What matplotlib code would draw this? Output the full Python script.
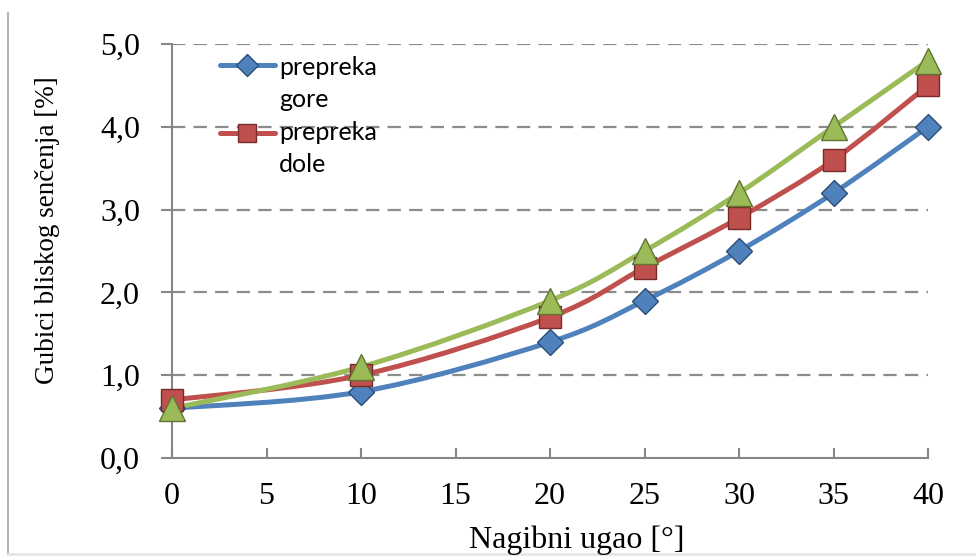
import matplotlib
matplotlib.use("Agg")
import matplotlib.pyplot as plt
from matplotlib.path import Path
from matplotlib.patches import PathPatch
from matplotlib.lines import Line2D
from matplotlib.ticker import FuncFormatter
import numpy as np

# data
ugao = [0, 10, 20, 25, 30, 35, 40]
gore = [0.6, 0.8, 1.4, 1.9, 2.5, 3.2, 4.0]
dole = [0.7, 1.0, 1.7, 2.3, 2.9, 3.6, 4.5]
treca = [0.6, 1.1, 1.9, 2.5, 3.2, 4.0, 4.8]
labels = [("prepreka", "gore"), ("prepreka", "dole")]

W, H = 976, 556


def smooth_path(x, y):
    # Excel-like smoothed line: Catmull-Rom segments as cubic Bezier curves
    pts = np.column_stack([x, y]).astype(float)
    n = len(pts)
    verts = [pts[0]]
    codes = [Path.MOVETO]
    for i in range(n - 1):
        p0 = pts[i - 1] if i > 0 else pts[i]
        p1 = pts[i]
        p2 = pts[i + 1]
        p3 = pts[i + 2] if i + 2 < n else pts[i + 1]
        c1 = p1 + (p2 - p0) / 6.0
        c2 = p2 - (p3 - p1) / 6.0
        verts += [c1, c2, p2]
        codes += [Path.CURVE4] * 3
    return Path(verts, codes)


def fx(px):
    return px / W


def fy(px):
    return 1 - px / H


fig = plt.figure(figsize=(W / 100, H / 100), dpi=100)
ax = fig.add_axes([fx(172), fy(458), (928 - 172) / W, (458 - 44) / H])

series = [
    (gore, "#4F81BD", "#2C4D75", "D", 13.5, 11),
    (dole, "#C0504D", "#772C2A", "s", 15.5, 13),
    (treca, "#9BBB59", "#5F7530", "^", 19, 16),
]

for vals, col, dark, mk, ms, lms in series:
    ax.add_patch(PathPatch(smooth_path(ugao, vals), facecolor="none", edgecolor=col,
                           lw=3.6, capstyle="round", zorder=3))
for vals, col, dark, mk, ms, lms in series:
    ax.plot(ugao, vals, ls="none", marker=mk, ms=ms, mfc=col, mec=dark, mew=1.0,
            zorder=4, clip_on=False)

ax.set_xlim(0, 40)
ax.set_ylim(0, 5)
ax.set_xticks(np.arange(0, 41, 5))
ax.set_yticks(np.arange(0, 5.01, 1))
ax.yaxis.set_major_formatter(FuncFormatter(lambda v, p: f"{v:.1f}".replace(".", ",")))

for y in np.arange(1, 5.01, 1):
    ax.axhline(y, color="#8c8c8c", lw=1.6, dashes=(6, 3.7), zorder=1)

for s in ["top", "right"]:
    ax.spines[s].set_visible(False)
for s in ["left", "bottom"]:
    ax.spines[s].set_color("#868686")
    ax.spines[s].set_linewidth(1.5)

serif = "Liberation Serif"
ax.tick_params(axis="y", direction="out", length=8, width=1.5, color="#868686",
               pad=15, labelsize=23)
ax.tick_params(axis="x", direction="in", length=7, width=1.5, color="#868686",
               pad=17, labelsize=23)
for t in ax.get_xticklabels() + ax.get_yticklabels():
    t.set_fontfamily(serif)

ax.set_ylabel("Gubici bliskog senčenja [%]", fontsize=19.5, fontfamily=serif)
ax.yaxis.set_label_coords(-0.148, 0.551)
ax.set_xlabel("Nagibni ugao [°]", fontsize=23, fontfamily=serif)
ax.xaxis.set_label_coords(0.536, -0.163)

# legend (only the first two series are named in the reference)
for k, (vals, col, dark, mk, ms, lms) in enumerate(series[:2]):
    yh = [65, 133][k]
    fig.add_artist(Line2D([fx(220), fx(275)], [fy(yh), fy(yh)], color=col, lw=3.6,
                          solid_capstyle="round", transform=fig.transFigure))
    fig.add_artist(Line2D([fx(247)], [fy(yh)], ls="none", marker=mk, ms=lms, mfc=col,
                          mec=dark, mew=1.0, transform=fig.transFigure))
    base = [75, 140][k]
    for j, txt in enumerate(labels[k]):
        fig.text(fx(279), fy(base + 32 * j), txt, fontsize=18, fontfamily="Lato",
                 va="baseline", ha="left")

# chart frame edges visible in the reference
fig.add_artist(Line2D([fx(8), fx(8)], [fy(13), fy(556)], zorder=-1,
                      color="#a6a6a6", lw=1.2, transform=fig.transFigure))
fig.add_artist(Line2D([fx(8), 1], [fy(554), fy(554)], zorder=-1,
                      color="#e6e6e6", lw=2, transform=fig.transFigure))

fig.savefig("out.png", dpi=100)
